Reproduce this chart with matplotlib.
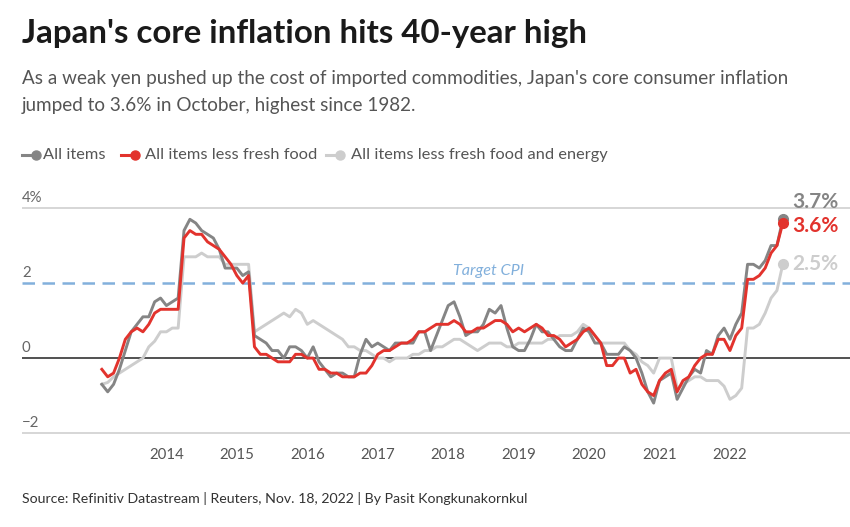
import numpy as np
import matplotlib.pyplot as plt
from matplotlib.lines import Line2D

plt.rcParams['font.family'] = ['Lato', 'DejaVu Sans']

# Japan CPI, y/y % change, monthly from Feb 2013 to Oct 2022
all_items = [
    -0.7, -0.9, -0.7, -0.3, 0.2, 0.7, 0.9, 1.1, 1.1, 1.5, 1.6,
    1.4, 1.5, 1.6, 3.4, 3.7, 3.6, 3.4, 3.3, 3.2, 2.9, 2.4, 2.4,
    2.4, 2.2, 2.3, 0.6, 0.5, 0.4, 0.2, 0.2, 0.0, 0.3, 0.3, 0.2,
    0.0, 0.3, -0.1, -0.3, -0.5, -0.4, -0.4, -0.5, -0.5, 0.1, 0.5, 0.3,
    0.4, 0.3, 0.2, 0.4, 0.4, 0.4, 0.4, 0.7, 0.7, 0.2, 0.6, 1.0,
    1.4, 1.5, 1.1, 0.6, 0.7, 0.7, 0.9, 1.3, 1.2, 1.4, 0.8, 0.3,
    0.2, 0.2, 0.5, 0.9, 0.7, 0.7, 0.5, 0.3, 0.2, 0.2, 0.5, 0.8,
    0.7, 0.4, 0.4, 0.1, 0.1, 0.1, 0.3, 0.2, 0.0, -0.4, -0.9, -1.2,
    -0.6, -0.5, -0.4, -1.1, -0.8, -0.5, -0.3, -0.4, 0.2, 0.1, 0.6, 0.8,
    0.5, 0.9, 1.2, 2.5, 2.5, 2.4, 2.6, 3.0, 3.0, 3.7,
]
less_fresh = [
    -0.3, -0.5, -0.4, 0.0, 0.5, 0.7, 0.8, 0.7, 0.9, 1.2, 1.3,
    1.3, 1.3, 1.3, 3.2, 3.4, 3.3, 3.3, 3.1, 3.0, 2.9, 2.7, 2.5,
    2.2, 2.0, 2.2, 0.3, 0.1, 0.1, 0.0, -0.1, -0.1, -0.1, 0.1, 0.1,
    0.0, 0.0, -0.3, -0.3, -0.4, -0.4, -0.5, -0.5, -0.5, -0.4, -0.4, -0.2,
    0.1, 0.2, 0.2, 0.3, 0.4, 0.4, 0.5, 0.7, 0.7, 0.8, 0.9, 0.9,
    0.9, 1.0, 0.9, 0.7, 0.7, 0.8, 0.8, 0.9, 1.0, 1.0, 0.9, 0.7,
    0.8, 0.7, 0.8, 0.9, 0.8, 0.6, 0.6, 0.5, 0.3, 0.4, 0.5, 0.7,
    0.8, 0.6, 0.4, -0.2, -0.2, 0.0, 0.0, -0.4, -0.3, -0.7, -0.9, -1.0,
    -0.6, -0.4, -0.3, -0.9, -0.6, -0.5, -0.2, 0.0, 0.1, 0.1, 0.5, 0.5,
    0.2, 0.6, 0.8, 2.1, 2.1, 2.2, 2.4, 2.8, 3.0, 3.6,
]
less_fresh_energy = [
    -0.7, -0.65, -0.5, -0.4, -0.3, -0.2, -0.1, 0.0, 0.3, 0.45, 0.7,
    0.7, 0.8, 0.8, 2.7, 2.7, 2.7, 2.8, 2.7, 2.7, 2.7, 2.5, 2.5,
    2.5, 2.5, 2.5, 0.7, 0.8, 0.9, 1.0, 1.1, 1.2, 1.1, 1.3, 1.2,
    0.9, 1.0, 0.9, 0.8, 0.7, 0.6, 0.5, 0.3, 0.3, 0.2, 0.2, 0.1,
    0.0, 0.0, -0.1, 0.0, 0.0, 0.0, 0.1, 0.1, 0.2, 0.2, 0.3, 0.3,
    0.4, 0.5, 0.5, 0.4, 0.3, 0.2, 0.3, 0.4, 0.4, 0.4, 0.3, 0.3,
    0.4, 0.4, 0.4, 0.4, 0.4, 0.5, 0.5, 0.6, 0.6, 0.6, 0.7, 0.9,
    0.8, 0.6, 0.4, 0.4, 0.4, 0.4, 0.4, 0.2, 0.1, -0.1, -0.2, -0.4,
    0.0, 0.0, 0.0, -0.8, -0.7, -0.6, -0.5, -0.5, -0.6, -0.6, -0.6, -0.75,
    -1.1, -1.0, -0.8, 0.8, 0.8, 0.9, 1.2, 1.6, 1.8, 2.5,
]
years = ['2014', '2015', '2016', '2017', '2018', '2019', '2020', '2021', '2022']
target_cpi = 2

months = np.arange(1, len(all_items) + 1)  # months since Jan 2013

c_all = '#858585'
c_core = '#e2332d'
c_cc = '#cdcdcd'
c_target = '#82b0dc'

W, H = 850, 527
fig = plt.figure(figsize=(8.5, 5.27), dpi=100)

# axes placed so that Jan 2013 sits at x=96px and the 4% line at y=208px
ax = fig.add_axes([22 / W, 0.164, 1 - 22 / W, 0.491])
ax.set_xlim(-12.6, 128.45)
ax.set_ylim(-2.2, 4.7)
for s in ax.spines.values():
    s.set_visible(False)
ax.set_yticks([])
ax.set_xticks([12 * (i + 1) for i in range(len(years))])
ax.set_xticklabels(years, fontsize=10.8, color='#555555')
ax.tick_params(axis='x', length=0, pad=5)

ax.axhline(4, color='#d6d6d6', lw=1.4, zorder=1)
ax.axhline(-2, color='#d6d6d6', lw=1.4, zorder=1)
ax.axhline(0, color='#222222', lw=1.1, zorder=1)
ax.axhline(target_cpi, color=c_target, lw=1.8, ls=(0, (5, 3)), zorder=1)
ax.text(66.8, 2.33, 'Target CPI', color=c_target, style='italic',
        fontsize=11.6, ha='center', va='center')

for v, lab in [(4, '4%'), (2, '2'), (0, '0'), (-2, '\u22122')]:
    ax.text(0, v + 0.08, lab, transform=ax.get_yaxis_transform(),
            fontsize=10.8, color='#666666', ha='left', va='bottom')

ax.plot(months, less_fresh_energy, color=c_cc, lw=2.1, zorder=2)
ax.plot(months, all_items, color=c_all, lw=2.1, zorder=3)
ax.plot(months, less_fresh, color=c_core, lw=2.1, zorder=4)

ax.plot(months[-1], less_fresh_energy[-1], 'o', color=c_cc, ms=7, zorder=2)
ax.plot(months[-1], all_items[-1], 'o', color=c_all, ms=7, zorder=3)
ax.plot(months[-1], less_fresh[-1], 'o', color=c_core, ms=7, zorder=4)

# end-of-line value labels
for vals, col, dy in [(all_items, c_all, 17), (less_fresh, c_core, -3),
                      (less_fresh_energy, c_cc, 0)]:
    ax.annotate(f'{vals[-1]:.1f}%', (months[-1], vals[-1]),
                xytext=(9, dy), textcoords='offset pixels',
                fontsize=15, fontweight='bold', color=col,
                ha='left', va='center')

# titles
fig.text(22 / W, 1 - 43 / H, "Japan's core inflation hits 40-year high",
         fontsize=23.8, fontweight='bold', color='#1a1a1a', va='baseline')
fig.text(22 / W, 1 - 84 / H,
         "As a weak yen pushed up the cost of imported commodities, Japan's core consumer inflation",
         fontsize=13.6, color='#555555', va='baseline')
fig.text(22 / W, 1 - 111 / H,
         "jumped to 3.6% in October, highest since 1982.",
         fontsize=13.6, color='#555555', va='baseline')

# legend
leg_items = [('All items', c_all, 22, 43), ('All items less fresh food', c_core, 121, 145),
             ('All items less fresh food and energy', c_cc, 326, 351)]
ly = 1 - 155 / H
for lab, col, x0, xt in leg_items:
    fig.add_artist(Line2D([x0 / W, (x0 + 15) / W], [ly, ly], color=col, lw=2.2,
                          transform=fig.transFigure))
    fig.add_artist(Line2D([(x0 + 14) / W], [ly], marker='o', ms=6.5, color=col,
                          transform=fig.transFigure))
    fig.text(xt / W, ly, lab, fontsize=11.8, color='#555555', va='center')

fig.text(22 / W, 1 - 503 / H,
         'Source: Refinitiv Datastream | Reuters, Nov. 18, 2022 | By Pasit Kongkunakornkul',
         fontsize=10.2, color='#333333', va='baseline')

fig.savefig('out.png', dpi=100)
